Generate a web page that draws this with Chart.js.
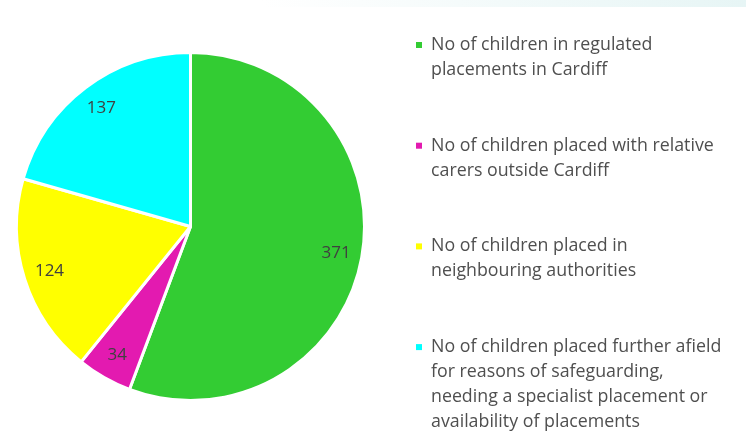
<!DOCTYPE html>
<html>
<head>
<meta charset="utf-8">
<script src="https://cdn.jsdelivr.net/npm/chart.js@4.4.1/dist/chart.umd.min.js"></script>
<style>
  html, body { margin: 0; padding: 0; background: #ffffff; }
  #wrap { position: relative; width: 746px; height: 433px; background: #ffffff; }
  #band { position:absolute; left:0; top:0; width:746px; height:7px;
    background: linear-gradient(to right, rgba(255,255,255,0) 35%, rgba(228,244,244,0.9) 100%); }
</style>
</head>
<body>
<div id="wrap">
<div id="band"></div>
<canvas id="c" width="746" height="433" style="position:absolute;left:0;top:0"></canvas>
</div>
<script>
const categories = [
  ["No of children in regulated", "placements in Cardiff"],
  ["No of children placed with relative", "carers outside Cardiff"],
  ["No of children placed in", "neighbouring authorities"],
  ["No of children placed further afield", "for reasons of safeguarding,", "needing a specialist placement or", "availability of placements"]
];
const values = [371, 34, 124, 137];
const colors = ["#33cc33", "#e31ab0", "#ffff00", "#00ffff"];

const FONT = "'Open Sans', sans-serif";
const TEXT_COLOR = "#4f4f4f";

const valueLabels = {
  id: 'valueLabels',
  afterDatasetsDraw(chart) {
    const ctx = chart.ctx;
    const meta = chart.getDatasetMeta(0);
    ctx.save();
    ctx.font = "17px " + FONT;
    ctx.fillStyle = "#404040";
    ctx.textAlign = "center";
    ctx.textBaseline = "middle";
    meta.data.forEach((arc, i) => {
      const p = arc.getProps(['x', 'y', 'startAngle', 'endAngle', 'outerRadius'], true);
      const mid = (p.startAngle + p.endAngle) / 2;
      const r = p.outerRadius * 0.85;
      ctx.fillText(String(chart.data.datasets[0].data[i]), p.x + Math.cos(mid) * r, p.y + Math.sin(mid) * r);
    });
    ctx.restore();
  }
};

const sideLegend = {
  id: 'sideLegend',
  afterDraw(chart) {
    const ctx = chart.ctx;
    const labels = chart.data.labels;
    const bg = chart.data.datasets[0].backgroundColor;
    const x0 = 416, tx = 431, y0 = 45, step = 100.7, lh = 25;
    ctx.save();
    ctx.font = "17.8px " + FONT;
    ctx.textAlign = "left";
    ctx.textBaseline = "middle";
    labels.forEach((lines, i) => {
      const y = y0 + i * step;
      ctx.fillStyle = bg[i];
      ctx.fillRect(x0, y - 3, 6, 6);
      ctx.fillStyle = TEXT_COLOR;
      lines.forEach((ln, j) => ctx.fillText(ln, tx, y + j * lh));
    });
    ctx.restore();
  }
};

new Chart(document.getElementById('c'), {
  type: 'pie',
  data: {
    labels: categories,
    datasets: [{
      data: values,
      backgroundColor: colors,
      borderColor: '#ffffff',
      borderWidth: 3
    }]
  },
  options: {
    responsive: false,
    animation: false,
    layout: { padding: { left: 15, right: 380, top: 51, bottom: 31 } },
    plugins: {
      legend: { display: false },
      tooltip: { enabled: false }
    }
  },
  plugins: [valueLabels, sideLegend]
});
</script>
</body>
</html>
